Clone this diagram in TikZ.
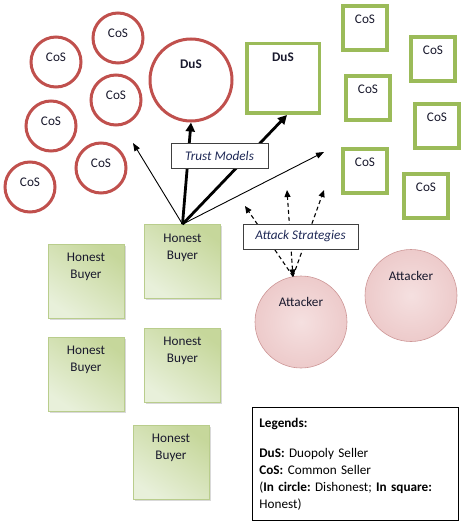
\documentclass[tikz,border=0pt]{standalone}
\usepackage{fontspec}
\setmainfont{Carlito}
\usetikzlibrary{arrows.meta,shadows}
\definecolor{sellred}{RGB}{192,80,77}
\definecolor{sellgreen}{RGB}{155,187,89}
\definecolor{inkdark}{RGB}{25,25,45}
\definecolor{labelblue}{RGB}{30,40,85}
\definecolor{buyerdark}{RGB}{198,215,155}
\definecolor{buyerlight}{RGB}{232,240,218}
\definecolor{buyeredge}{RGB}{185,205,140}
\definecolor{attlight}{RGB}{245,224,224}
\definecolor{attmid}{RGB}{236,200,200}
\definecolor{attdark}{RGB}{218,155,155}
\definecolor{attedge}{RGB}{205,150,150}
\pgfdeclareradialshading{attball}{\pgfpoint{0bp}{0bp}}{color(0bp)=(attlight);
  color(28bp)=(attmid); color(50bp)=(attdark); color(60bp)=(attdark)}
\frenchspacing
\begin{document}
\begin{tikzpicture}[x=1pt,y=-1pt,
    every node/.style={font=\fontsize{13.2}{17}\selectfont,text=inkdark},
    redcos/.style={circle,draw=sellred,line width=3pt,minimum size=50pt,inner sep=0pt,
      label={[yshift=5pt]center:CoS}},
    reddus/.style={circle,draw=sellred,line width=3pt,minimum size=82pt,inner sep=0pt,
      label={[yshift=16pt]center:\textbf{DuS}}},
    greencos/.style={rectangle,draw=sellgreen,line width=3.5pt,minimum size=44pt,inner sep=0pt,
      label={[yshift=9pt]center:CoS}},
    greendus/.style={rectangle,draw=sellgreen,line width=3.5pt,minimum width=72.5pt,
      minimum height=69.5pt,inner sep=0pt,label={[yshift=21.5pt]center:\textbf{DuS}}},
    buyer/.style={rectangle,draw=buyeredge,line width=0.6pt,minimum width=76pt,
      minimum height=74pt,inner sep=0pt,top color=buyerdark,bottom color=buyerlight,
      shading angle=-35,drop shadow={shadow xshift=1.5pt,shadow yshift=-1.5pt,opacity=0.3},
      label={[align=center,yshift=14pt]center:Honest\\Buyer}},
    attacker/.style={circle,draw=attedge,line width=0.6pt,minimum size=92pt,inner sep=0pt,
      shading=attball,label={[yshift=20pt]center:Attacker}},
    tagbox/.style={rectangle,draw=black!75,line width=0.8pt,fill=white,inner sep=0pt,
      minimum height=25pt,font=\fontsize{13.2}{17}\selectfont\itshape,text=labelblue},
    thinarrow/.style={line width=0.9pt,-{Triangle[length=8pt,width=6pt]}},
    thickarrow/.style={line width=2.8pt,-{Triangle[length=9pt,width=9pt]}},
    dasharrow/.style={line width=1.1pt,dash pattern=on 4pt off 3pt,
      -{Triangle[length=7pt,width=6pt]}}]
  \useasboundingbox (0,0) rectangle (464,532);
  % dishonest sellers
  \draw
    (118,38) node[redcos] (rc1){}
    (56,62) node[redcos] (rc2){}
    (116,100) node[redcos] (rc3){}
    (51,126) node[redcos] (rc4){}
    (101,168) node[redcos] (rc5){}
    (30,187) node[redcos] (rc6){}
    (191,80) node[reddus] (rdus){};
  % honest sellers
  \draw
    (365,28) node[greencos] (gc1){}
    (433,59) node[greencos] (gc2){}
    (368,98) node[greencos] (gc3){}
    (437,126) node[greencos] (gc4){}
    (365,171) node[greencos] (gc5){}
    (426,196) node[greencos] (gc6){}
    (283,78.5) node[greendus] (gdus){};
  % buyers and attackers
  \draw
    (182.5,261.5) node[buyer] (hb1){}
    (86,281) node[buyer] (hb2){}
    (86,374) node[buyer] (hb3){}
    (182.5,365) node[buyer] (hb4){}
    (171,462) node[buyer] (hb5){}
    (301,322) node[attacker] (att1){}
    (411,295.5) node[attacker] (att2){};
  \coordinate (trustl) at (133,143);
  \coordinate (trustr) at (324,152);
  \coordinate (atk1) at (245,206);
  \coordinate (atk2) at (287,190);
  \coordinate (atk3) at (324,190);
  \begin{scope}
    \draw[thinarrow] (hb1.north) to (trustl);
    \draw[thickarrow] (hb1.north) to (rdus.south);
    \draw[thickarrow] (hb1.north) to ([xshift=4pt]gdus.south);
    \draw[thinarrow] (hb1.north) to (trustr);
    \draw[dasharrow] (att1.100) to (atk1);
    \draw[dasharrow,{Triangle[length=7pt,width=6pt]}-{Triangle[length=7pt,width=6pt]}]
      (att1.100) to (atk2);
    \draw[dasharrow] (att1.100) to (atk3);
  \end{scope}
  \draw
    (219.5,155.5) node[tagbox,minimum width=97pt] (trust){Trust Models}
    (300.5,236.5) node[tagbox,minimum width=115pt] (attack){Attack Strategies};
  \node[draw=black,line width=0.8pt,anchor=north west,minimum width=206pt,
    minimum height=113pt,text width=192pt,inner sep=7pt,align=left,text=black]
    (legend) at (252,407)
    {\textbf{Legends:}\\[13pt]
     \textbf{DuS:} Duopoly Seller\\
     \textbf{CoS:} Common Seller\\
     (\textbf{In circle:} Dishonest; \textbf{In square:}\\
     Honest)};
\end{tikzpicture}
\end{document}
